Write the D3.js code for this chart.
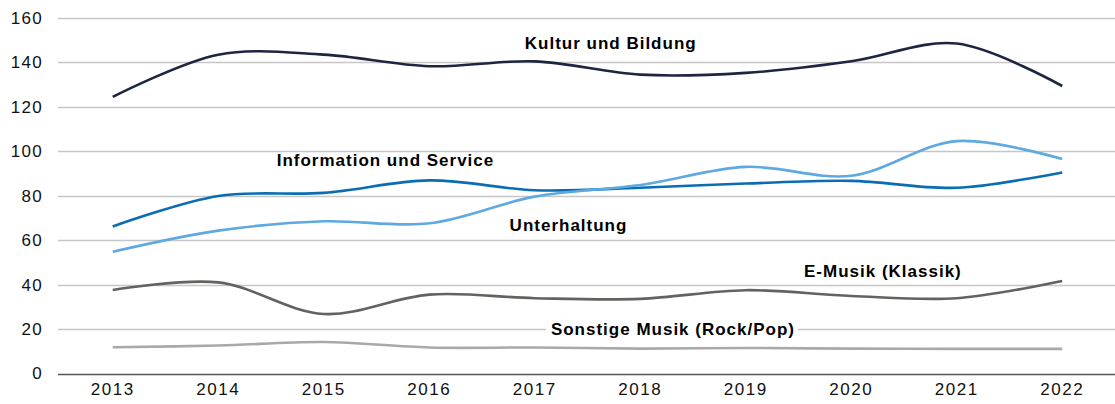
<!DOCTYPE html>
<html><head><meta charset="utf-8">
<script src="https://cdn.jsdelivr.net/npm/d3@7"></script>
<style>
html,body{margin:0;padding:0;background:#fff;}
svg{display:block;font-family:"Liberation Sans",Arial,Helvetica,sans-serif;}
</style></head>
<body><svg id="chart" width="1115" height="404"></svg>
<script>
const years = ["2013","2014","2015","2016","2017","2018","2019","2020","2021","2022"];
const yTicks = [0,20,40,60,80,100,120,140,160];
const seriesNames = ["Kultur und Bildung","Information und Service","Unterhaltung","E-Musik (Klassik)","Sonstige Musik (Rock/Pop)"];
const kultur = [124.5,143.5,143.5,138.3,140.5,134.5,135.3,140.5,148.5,129.4];
const information = [66.2,79.9,81.3,86.9,82.5,83.6,85.5,86.7,83.6,90.5];
const unterhaltung = [54.8,64.3,68.5,67.6,79.6,84.8,93.0,89.0,104.6,96.5];
const eMusik = [37.6,41.0,26.8,35.5,33.9,33.6,37.5,34.9,33.9,41.6];
const sonstige = [11.8,12.6,14.2,11.7,11.7,11.2,11.5,11.2,11.1,11.1];

const seriesValues = [kultur, information, unterhaltung, eMusik, sonstige];
const colors = ["#1d2540","#0a6db3","#5ea9e0","#64625e","#a9a9a9"];
// label anchor positions expressed in data space (year index, value)
const labelPos = [
  {x:4.72, y:148.7},
  {x:2.585, y:95.8},
  {x:4.32, y:66.4},
  {x:7.30, y:45.7},
  {x:5.31, y:20}
];

const svg = d3.select("#chart");
const W = 1115, H = 404;
const margin = {left:60, right:0, top:18, bottom:30};
const x = d3.scaleBand().domain(years).range([margin.left, W - margin.right]);
const y = d3.scaleLinear().domain([0,160]).range([373.5, 18]);
const xc = d => x(d) + x.bandwidth()/2;

// gridlines
const grid = svg.append("g");
grid.selectAll("line").data(yTicks.filter(t=>t>0)).join("line")
  .attr("x1", 58).attr("x2", W)
  .attr("y1", d=>Math.round(y(d))+0.5).attr("y2", d=>Math.round(y(d))+0.5)
  .attr("stroke", "#c6c6c6").attr("stroke-width", 1.3);

// y axis
const yAxis = d3.axisLeft(y).tickValues(yTicks).tickSize(0).tickPadding(0);
const gy = svg.append("g").attr("transform","translate(43,0)").call(yAxis);
gy.select(".domain").remove();
gy.selectAll("text").attr("font-size",17).attr("fill","#111").attr("letter-spacing","1.3px")
  .attr("font-family","'Liberation Sans',Arial,sans-serif");

// x axis
const xAxis = d3.axisBottom(x).tickSize(0).tickPadding(8);
const gx = svg.append("g").attr("transform",`translate(0,${Math.round(y(0))+0.5})`).call(xAxis);
gx.select(".domain").attr("d", `M58,0H${W}`).attr("stroke","#555").attr("stroke-width",1.5);
gx.selectAll("text").attr("font-size",17).attr("fill","#111").attr("letter-spacing","1.6px")
  .attr("font-family","'Liberation Sans',Arial,sans-serif");

// lines
const line = d3.line().x((d,i)=>xc(years[i])).y(d=>y(d)).curve(d3.curveCatmullRom.alpha(0.5));
svg.append("g").selectAll("path").data(seriesValues).join("path")
  .attr("d", d=>line(d))
  .attr("fill","none")
  .attr("stroke",(d,i)=>colors[i])
  .attr("stroke-width",2.6)
  .attr("stroke-linejoin","round");

// labels
const xi = d3.scaleLinear().domain([0, years.length-1]).range([xc(years[0]), xc(years[years.length-1])]);
const lg = svg.append("g");
seriesNames.forEach((name,i)=>{
  const p = labelPos[i];
  const g = lg.append("g");
  const t = g.append("text")
    .attr("x", xi(p.x)).attr("y", y(p.y))
    .attr("text-anchor","middle").attr("dominant-baseline","central")
    .attr("font-size",17).attr("font-weight","bold").attr("fill","#000")
    .attr("letter-spacing","1px")
    .text(name);
  if (i===4){
    const bb = t.node().getBBox();
    g.insert("rect","text").attr("x",bb.x-5).attr("y",bb.y).attr("width",bb.width+8).attr("height",bb.height)
      .attr("fill","#fff");
  }
});
</script></body></html>
